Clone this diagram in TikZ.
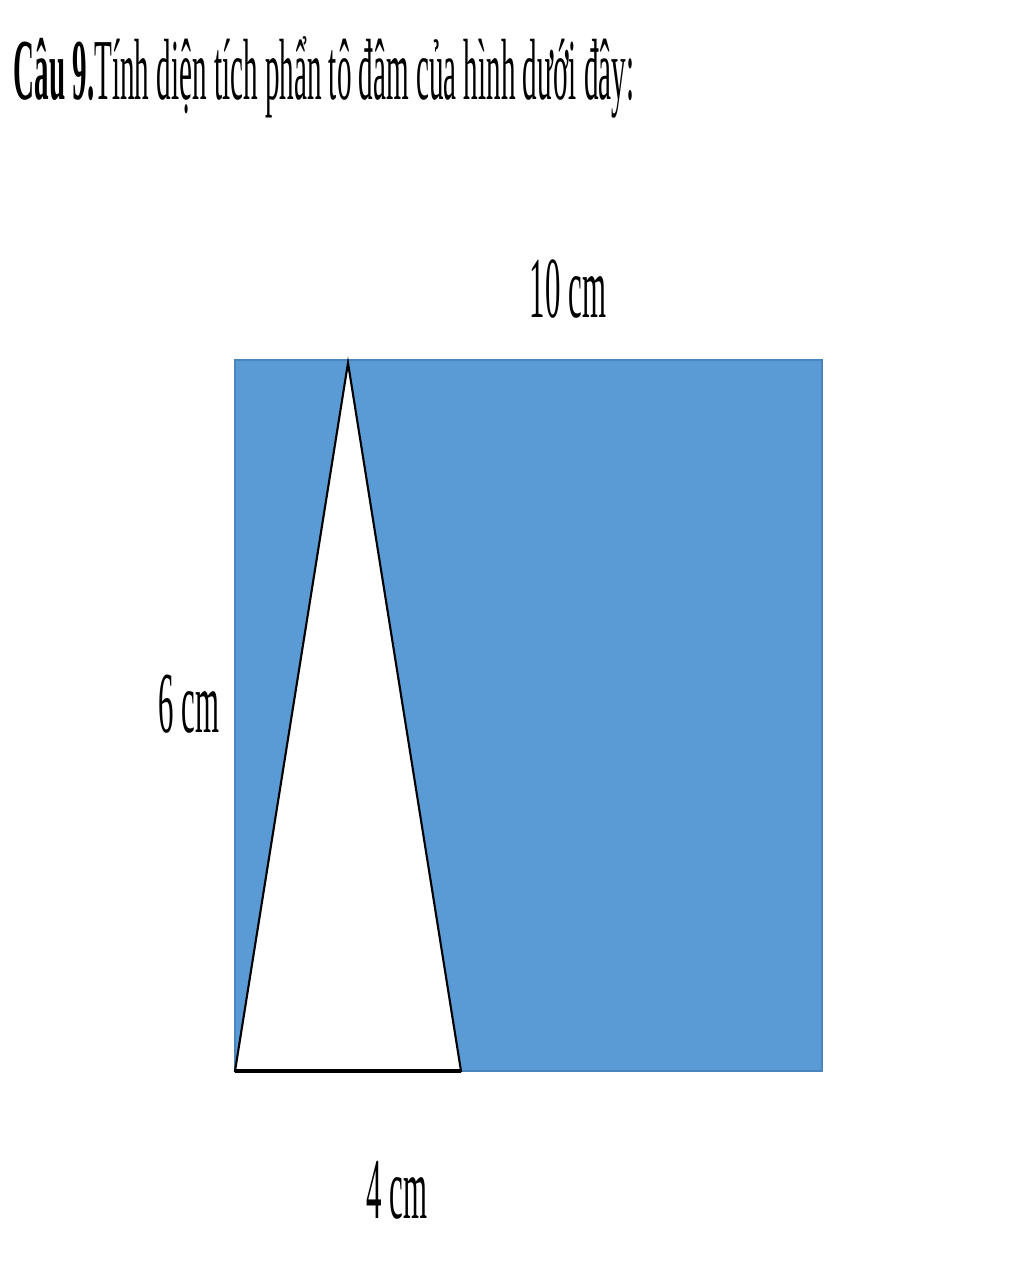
\documentclass[tikz,border=0pt]{standalone}
\usepackage{graphicx}
\usepackage{fontspec}
\setmainfont{Liberation Serif}
\usepackage{tikz}
\usetikzlibrary{positioning}
\definecolor{shadeblue}{HTML}{5B9BD5}
\definecolor{edgeblue}{HTML}{4A85BE}
\tikzstyle{shaded} = [fill=shadeblue, draw=edgeblue, line width=0.6pt]
\tikzstyle{hole} = [fill=white, draw=black, line width=0.6pt, line join=miter]
\tikzstyle{lbl} = [inner sep=0pt, anchor=base, font=\fontsize{24.7pt}{30pt}\selectfont]
\newcommand{\narrow}[1]{\scalebox{0.355}[1]{#1}}

\begin{document}
\begin{tikzpicture}[x=0.01cm, y=-0.01cm]
\useasboundingbox (0,0) rectangle (1024,1280);
\node[lbl, anchor=base west] (title) at (13,100) {\resizebox{6.2cm}{\height}{\textbf{Câu 9.}Tính diện tích phẩn tô đâm của hình dưới đây:}};
\coordinate (A) at (235,1071);
\coordinate (B) at (822,1071);
\coordinate (C) at (822,360);
\coordinate (D) at (235,360);
\coordinate (apex) at (348,363);
\coordinate (foot) at (461,1071);
\draw[shaded] (A) -- (B) -- (C) -- (D) -- cycle;
\draw[hole] (A) -- (apex) -- (foot) -- cycle;
\draw[line width=1.1pt] (A) -- (foot);
\node[lbl] (top) at (568,318) {\narrow{10 cm}};
\node[lbl] (side) at (189,732) {\narrow{6 cm}};
\node[lbl] (base) at (397,1218) {\narrow{4 cm}};
\end{tikzpicture}
\end{document}
